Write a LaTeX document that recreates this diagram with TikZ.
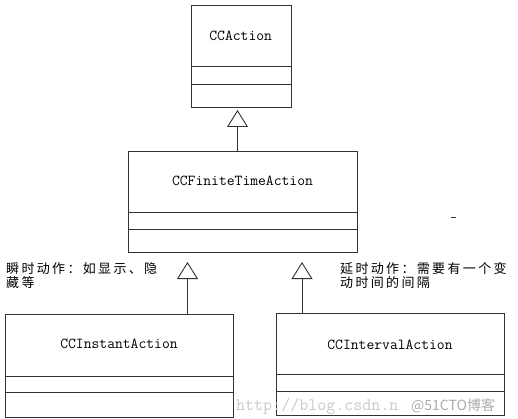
\documentclass[tikz,border=0pt]{standalone}
\usepackage{fontspec}
\newfontfamily\cjk[LetterSpace=18]{Noto Sans CJK SC}
\newfontfamily\cjkwm{Noto Sans CJK SC}
\usetikzlibrary{arrows.meta}
\definecolor{ln}{HTML}{333333}
\definecolor{wm}{HTML}{CACACA}
\tikzset{
  umlbox/.style={draw=ln, line width=0.9pt, rectangle, anchor=north west, inner sep=0pt},
  cname/.style={font=\ttfamily\fontsize{15.2}{16}\selectfont, text=black, inner sep=0pt},
  divider/.style={draw=ln, line width=0.9pt},
  inh/.style={draw=ln, line width=0.9pt, -{Triangle[open, width=21pt, length=17pt, line width=0.9pt]}},
  note/.style={font=\cjk\fontsize{13}{14.5}\selectfont, align=left, anchor=north west, inner sep=0pt, text=black},
}
\begin{document}
\begin{tikzpicture}[x=1pt, y=-1pt]
\useasboundingbox[fill=white] (0,0) rectangle (518,419);

% CCAction
\node[umlbox, minimum width=100pt, minimum height=102pt] (action) at (190.7,5) {};
\node[cname] (actiont) at (240.7,36) {CCAction};
\draw[divider] (190.7,66.7) -- (290.7,66.7);
\draw[divider] (190.7,84) -- (290.7,84);

% CCFiniteTimeAction
\node[umlbox, minimum width=229pt, minimum height=101pt] (finite) at (128,151) {};
\node[cname] (finitet) at (242.5,181) {CCFiniteTimeAction};
\draw[divider] (128,212) -- (357,212);
\draw[divider] (128,229) -- (357,229);

% CCInstantAction
\node[umlbox, minimum width=228pt, minimum height=103pt] (instant) at (5,314) {};
\node[cname] (instantt) at (119,344) {CCInstantAction};
\draw[divider] (5,376) -- (233,376);
\draw[divider] (5,392) -- (233,392);

% CCIntervalAction
\node[umlbox, minimum width=228pt, minimum height=102pt] (interval) at (276,313) {};
\node[cname] (intervalt) at (390,345) {CCIntervalAction};
\draw[divider] (276,374) -- (504,374);
\draw[divider] (276,391) -- (504,391);

% inheritance connectors
\coordinate (tipA) at (237.5,110);
\coordinate (tipB) at (187.5,262);
\coordinate (tipC) at (302,262);
\draw[inh] (finite.north -| tipA) -- (tipA);
\draw[inh] (instant.north -| tipB) -- (tipB);
\draw[inh] (interval.north -| tipC) -- (tipC);

% notes
\node[note] (noteL) at (6,262) {瞬时动作：如显示、隐\\藏等};
\node[note] (noteR) at (340,262) {延时动作：需要有一个变\\动时间的间隔};

% small dash
\draw[ln, line width=0.8pt] (451,217.5) -- (456,217.5);

% watermark
\node[anchor=west, inner sep=0pt, text=wm, font=\ttfamily\fontsize{17.5}{18}\selectfont] (wm1) at (236,406) {http://blog.csdn.n};
\node[anchor=west, inner sep=0pt, text=wm!85!black, font=\cjkwm\fontsize{14}{14}\selectfont] (wm2) at (411,406) {@51CTO博客};
\end{tikzpicture}
\end{document}
